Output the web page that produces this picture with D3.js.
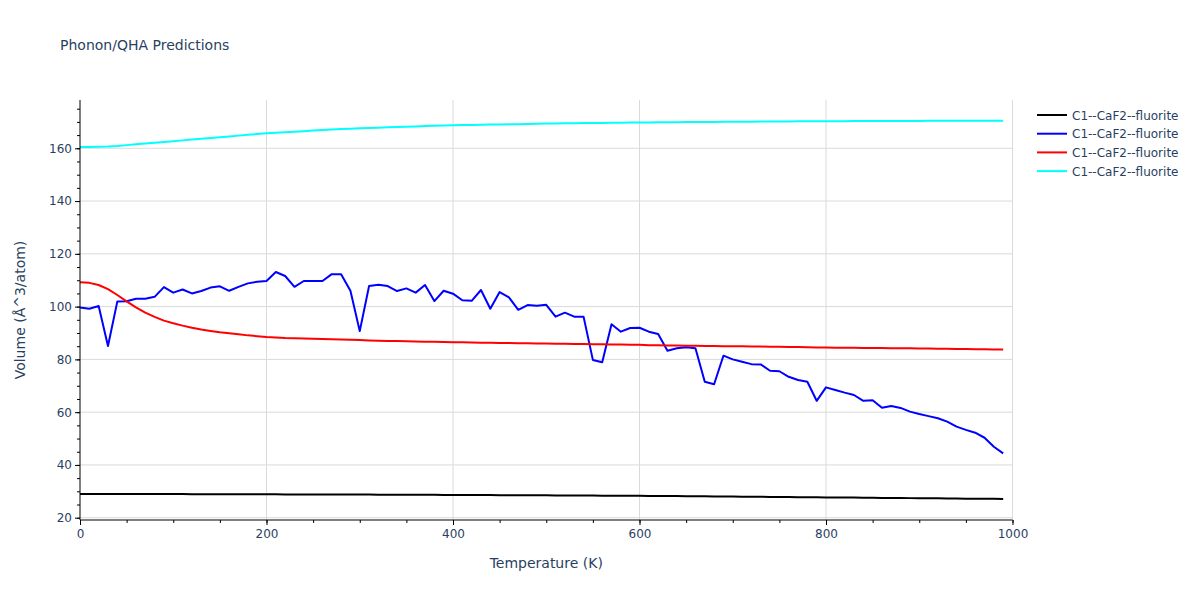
<!DOCTYPE html>
<html>
<head>
<meta charset="utf-8">
<script src="https://cdn.jsdelivr.net/npm/d3@7"></script>
<style>
  body { margin: 0; background: #fff; }
  text { font-family: "DejaVu Sans", Verdana, sans-serif; fill: #2a3f5f; }
</style>
</head>
<body>
<script>
// temperatures (K), one sample every 10 K
var temps = [0,10,20,30,40,50,60,70,80,90,100,110,120,130,140,150,160,170,180,190,
  200,210,220,230,240,250,260,270,280,290,300,310,320,330,340,350,360,370,380,390,
  400,410,420,430,440,450,460,470,480,490,500,510,520,530,540,550,560,570,580,590,
  600,610,620,630,640,650,660,670,680,690,700,710,720,730,740,750,760,770,780,790,
  800,810,820,830,840,850,860,870,880,890,900,910,920,930,940,950,960,970,980,990];

var blackVals = [29.0,29.0,29.0,29.0,28.99,28.98,28.98,28.97,28.96,28.95,28.95,28.94,28.93,28.92,28.91,28.9,28.9,28.89,28.88,28.87,
  28.86,28.85,28.84,28.83,28.82,28.81,28.8,28.79,28.78,28.77,28.76,28.75,28.74,28.73,28.72,28.71,28.7,28.68,28.67,28.65,
  28.63,28.62,28.6,28.58,28.57,28.55,28.53,28.52,28.5,28.48,28.47,28.45,28.43,28.41,28.39,28.38,28.36,28.34,28.33,28.31,
  28.3,28.27,28.24,28.21,28.18,28.15,28.12,28.09,28.06,28.03,28.0,27.97,27.94,27.91,27.88,27.85,27.82,27.79,27.76,27.73,
  27.7,27.67,27.64,27.61,27.58,27.55,27.51,27.48,27.45,27.42,27.39,27.36,27.33,27.3,27.26,27.23,27.2,27.17,27.14,27.1];

var blueVals = [99.7,99.2,100.2,85.1,101.9,102.0,103.0,103.0,103.7,107.4,105.3,106.5,105.0,105.9,107.2,107.7,106.0,107.5,108.8,109.4,
  109.7,113.1,111.6,107.5,109.7,109.7,109.7,112.3,112.3,106.0,90.7,107.8,108.3,107.8,105.9,106.9,105.3,108.2,102.1,106.0,
  104.9,102.4,102.2,106.3,99.2,105.5,103.5,98.8,100.6,100.3,100.7,96.2,97.7,96.2,96.2,79.8,78.9,93.3,90.5,91.9,
  92.0,90.5,89.6,83.3,84.2,84.6,84.2,71.5,70.6,81.4,80.0,79.1,78.2,78.1,75.7,75.5,73.4,72.2,71.5,64.3,
  69.4,68.4,67.4,66.5,64.3,64.5,61.7,62.3,61.6,60.2,59.3,58.5,57.7,56.4,54.5,53.3,52.2,50.3,46.9,44.4];

var redVals = [109.2,109.0,108.2,106.6,104.4,102.0,99.7,97.7,96.1,94.7,93.7,92.8,92.0,91.3,90.8,90.3,89.9,89.5,89.1,88.8,
  88.5,88.3,88.1,88.0,87.9,87.8,87.7,87.6,87.5,87.4,87.3,87.2,87.1,87.0,86.95,86.9,86.8,86.7,86.7,86.6,
  86.5,86.5,86.4,86.3,86.3,86.2,86.2,86.1,86.1,86.0,86.0,85.9,85.9,85.8,85.8,85.7,85.7,85.6,85.6,85.5,
  85.5,85.4,85.4,85.3,85.3,85.2,85.2,85.1,85.1,85.0,85.0,84.95,84.9,84.85,84.8,84.75,84.7,84.65,84.6,84.55,
  84.5,84.45,84.4,84.4,84.35,84.3,84.3,84.25,84.2,84.2,84.15,84.1,84.05,84.0,83.95,83.9,83.85,83.8,83.75,83.7];

var cyanVals = [160.5,160.5,160.6,160.7,160.9,161.2,161.5,161.8,162.1,162.4,162.7,163.0,163.3,163.6,163.9,164.2,164.5,164.8,165.1,165.4,
  165.7,165.9,166.1,166.3,166.5,166.7,166.9,167.1,167.3,167.45,167.6,167.7,167.8,167.95,168.1,168.2,168.3,168.4,168.5,168.6,
  168.7,168.8,168.85,168.9,169.0,169.05,169.1,169.15,169.2,169.3,169.35,169.4,169.45,169.5,169.55,169.6,169.62,169.65,169.7,169.75,
  169.8,169.82,169.85,169.88,169.9,169.92,169.95,169.98,170.0,170.02,170.05,170.07,170.1,170.12,170.14,170.16,170.18,170.2,170.22,170.24,
  170.25,170.27,170.28,170.3,170.31,170.32,170.33,170.35,170.36,170.37,170.38,170.39,170.4,170.41,170.42,170.43,170.44,170.45,170.46,170.47];

var seriesNames = ["C1--CaF2--fluorite","C1--CaF2--fluorite","C1--CaF2--fluorite","C1--CaF2--fluorite"];
var seriesColors = ["#000000","#0000ff","#ff0000","#00ffff"];
var seriesVals = [blackVals, blueVals, redVals, cyanVals];

var xTicks = [0,200,400,600,800,1000];
var yTicks = [20,40,60,80,100,120,140,160];

var W = 1200, H = 600;
var plotLeft = 80, plotRight = 1012.5, plotTop = 100, plotBottom = 520;

var svg = d3.select("body").append("svg")
  .attr("width", W).attr("height", H);

var x = d3.scaleLinear().domain([0, 1000]).range([plotLeft, plotRight]);
var y = d3.scaleLinear().domain([19.13, 178.3]).range([plotBottom, plotTop]);

// grid
svg.append("g").selectAll("line").data(xTicks.filter(function(d){ return d > 0; }))
  .enter().append("line")
  .attr("x1", function(d){ return x(d); }).attr("x2", function(d){ return x(d); })
  .attr("y1", plotTop).attr("y2", plotBottom)
  .attr("stroke", "#dadada").attr("stroke-width", 1);
svg.append("g").selectAll("line").data(yTicks)
  .enter().append("line")
  .attr("x1", plotLeft).attr("x2", plotRight)
  .attr("y1", function(d){ return y(d); }).attr("y2", function(d){ return y(d); })
  .attr("stroke", "#dadada").attr("stroke-width", 1);

// lines
var line = d3.line()
  .x(function(d){ return x(d[0]); })
  .y(function(d){ return y(d[1]); });

seriesVals.forEach(function(vals, i){
  svg.append("path")
    .datum(temps.map(function(t, j){ return [t, vals[j]]; }))
    .attr("fill", "none")
    .attr("stroke", seriesColors[i])
    .attr("stroke-width", 2)
    .attr("stroke-linejoin", "round")
    .attr("d", line);
});

// axes
var xMinor = d3.axisBottom(x).tickValues(d3.range(0, 1001, 50)).tickSize(3).tickFormat("");
var xMajor = d3.axisBottom(x).tickValues(xTicks).tickSize(5).tickSizeOuter(0).tickPadding(4).tickFormat(d3.format("d"));
var yMinor = d3.axisLeft(y).tickValues(d3.range(20, 176, 5)).tickSize(3).tickFormat("");
var yMajor = d3.axisLeft(y).tickValues(yTicks).tickSize(5).tickSizeOuter(0).tickPadding(3).tickFormat(d3.format("d"));

function styleAxis(g){
  g.select(".domain").remove();
  g.selectAll("line").attr("stroke", "#000");
  g.selectAll("text").attr("font-size", "12px").attr("fill", "#2a3f5f")
    .style("font-family", "'DejaVu Sans', Verdana, sans-serif");
}

svg.append("g").attr("transform", "translate(0," + plotBottom + ")").call(xMinor).call(styleAxis);
svg.append("g").attr("transform", "translate(0," + plotBottom + ")").call(xMajor).call(styleAxis);
svg.append("g").attr("transform", "translate(" + plotLeft + ",0)").call(yMinor).call(styleAxis);
svg.append("g").attr("transform", "translate(" + plotLeft + ",0)").call(yMajor).call(styleAxis);

svg.append("line").attr("x1", plotLeft).attr("x2", plotRight).attr("y1", plotBottom).attr("y2", plotBottom)
  .attr("stroke", "#000").attr("stroke-width", 1);
svg.append("line").attr("x1", plotLeft).attr("x2", plotLeft).attr("y1", plotTop).attr("y2", plotBottom)
  .attr("stroke", "#000").attr("stroke-width", 1);

// titles
svg.append("text").attr("x", 60).attr("y", 50)
  .attr("font-size", "14px").text("Phonon/QHA Predictions");
svg.append("text").attr("x", (plotLeft + plotRight) / 2).attr("y", 568)
  .attr("text-anchor", "middle").attr("font-size", "14px").text("Temperature (K)");
svg.append("text")
  .attr("transform", "translate(25," + ((plotTop + plotBottom) / 2) + ") rotate(-90)")
  .attr("text-anchor", "middle").attr("font-size", "14px").text("Volume (Å^3/atom)");

// legend
var legend = svg.append("g").attr("transform", "translate(1037,115)");
seriesNames.forEach(function(name, i){
  var g = legend.append("g").attr("transform", "translate(0," + (i * 18.7) + ")");
  g.append("line").attr("x1", 0).attr("x2", 30).attr("y1", 0).attr("y2", 0)
    .attr("stroke", seriesColors[i]).attr("stroke-width", 2);
  g.append("text").attr("x", 35).attr("y", 4.5).attr("font-size", "12px").text(name);
});
</script>
</body>
</html>
